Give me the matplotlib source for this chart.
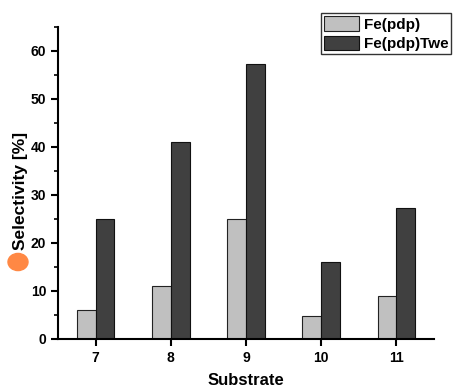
import matplotlib
matplotlib.use("Agg")
import matplotlib.pyplot as plt
import numpy as np
from matplotlib.patches import Circle

plt.rcParams['font.family'] = ['Liberation Sans', 'DejaVu Sans']

categories = ['7', '8', '9', '10', '11']
fe_pdp = [6.1, 11.1, 25.0, 4.8, 9.0]
fe_pdp_twe = [25.0, 41.1, 57.3, 16.1, 27.2]
series_names = ['Fe(pdp)', 'Fe(pdp)Twe']

fig = plt.figure(figsize=(4.55, 3.9), dpi=100)
ax = fig.add_axes([0.1275, 0.131, 0.8265, 0.80])

x = np.arange(len(categories))
w = 0.25
ax.bar(x - w/2, fe_pdp, w, color='#c0c0c0', edgecolor='#222222', linewidth=0.8, label=series_names[0])
ax.bar(x + w/2, fe_pdp_twe, w, color='#404040', edgecolor='#111111', linewidth=0.8, label=series_names[1])

ax.set_xlim(-0.5, 4.5)
ax.set_ylim(0, 65)
ax.set_yticks([0, 10, 20, 30, 40, 50, 60])
ax.set_yticks([5, 15, 25, 35, 45, 55, 65], minor=True)
ax.set_xticks(x)
ax.set_xticklabels(categories)
for s in ['top', 'right']:
    ax.spines[s].set_visible(False)
for s in ['left', 'bottom']:
    ax.spines[s].set_linewidth(1.5)
ax.tick_params(axis='both', which='major', direction='out', length=5, width=1.5, labelsize=10)
ax.tick_params(axis='y', which='minor', direction='out', length=3, width=1.2)
for lab in ax.get_xticklabels() + ax.get_yticklabels():
    lab.set_fontweight('bold')

ax.set_ylabel('Selectivity [%]', fontsize=12.5, fontweight='bold')
ax.yaxis.set_label_coords(-0.08, 0.475)
ax.set_xlabel('Substrate', fontsize=12, fontweight='bold', labelpad=6)

leg = fig.legend(loc='upper left', bbox_to_anchor=(0.705, 0.966), frameon=True, fancybox=False,
                 edgecolor='black', fontsize=11, handlelength=2.3, handleheight=1.1,
                 borderpad=0.2, labelspacing=0.25, handletextpad=0.3, borderaxespad=0)
for t in leg.get_texts():
    t.set_fontweight('bold')
leg.get_frame().set_linewidth(1.0)

circ = Circle((18/455, 1 - 262/390), 10/455, transform=fig.transFigure, color='#ff8844', zorder=5)
fig.patches.append(circ)

fig.savefig('out.png', dpi=100)
